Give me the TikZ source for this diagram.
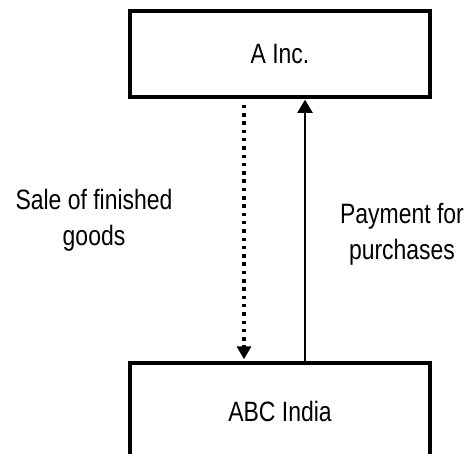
\documentclass[tikz,border=0pt]{standalone}
\usepackage{fontspec}
\setmainfont{Liberation Sans}[FakeStretch=0.82]
\usetikzlibrary{arrows.meta}
\tikzset{
  box/.style={draw=black, line width=3.5pt, minimum width=300pt, inner sep=0pt, font=\fontsize{28}{35}\selectfont},
  lbl/.style={align=center, inner sep=0pt, font=\fontsize{28}{36}\selectfont},
  flowdot/.style={line width=3.2pt, dash pattern=on 3.5pt off 4.8pt, -{Triangle[length=13pt,width=14pt]}},
  flowsolid/.style={line width=2.2pt, -{Triangle[length=13pt,width=15pt]}}
}
\begin{document}
\begin{tikzpicture}[x=1pt,y=1pt]
\useasboundingbox[fill=white] (0,0) rectangle (468,-453);
\node[box, minimum height=86pt] (A) at (280,-54) {A Inc.};
\node[box, minimum height=96pt] (B) at (280,-411) {ABC India};
\draw[flowdot, shorten <=6pt, shorten >=2pt] ([xshift=-36pt]A.south) -- ([xshift=-36pt]B.north);
\draw[flowsolid, shorten >=1pt] ([xshift=25pt]B.north) -- ([xshift=25pt]A.south);
\node[lbl] (s) at (94,-220) {Sale of finished\\goods};
\node[lbl] (p) at (402,-234) {Payment for\\purchases};
\end{tikzpicture}
\end{document}
